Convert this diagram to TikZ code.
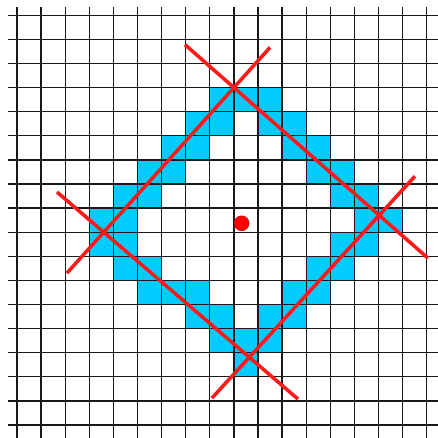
\documentclass[tikz,border=0pt]{standalone}
\usetikzlibrary{calc}
\definecolor{ccyan}{HTML}{00CCFF}
\definecolor{cred}{HTML}{FF1A1A}
\tikzset{
  gridline/.style={draw=black!90, line width=1.6pt},
  cell/.style={fill=ccyan},
  tangent/.style={draw=cred, line width=4.2pt},
  centre/.style={circle, fill=red, draw=red!75!black, line width=0.6pt, minimum size=0.62cm, inner sep=0pt},
}
\begin{document}
\begin{tikzpicture}
  \useasboundingbox (-0.705,-0.54) rectangle (17.47,17.635);
  % filled pixels, row by row from the top
  \foreach \r/\cs in {3/{8,9,10}, 4/{7,8,10,11}, 5/{6,7,11,12}, 6/{5,6,12,13},
                      7/{4,5,13,14}, 8/{3,4,14,15}, 9/{3,4,13,14}, 10/{4,5,12,13},
                      11/{5,6,7,11,12}, 12/{7,8,10,11}, 13/{8,9,10}, 14/{9}}
    \foreach \c in \cs
      \fill[cell] (\c,{16-\r}) rectangle ++(1,1);
  % grid
  \foreach \k in {0,...,17} {
    \draw[gridline] (-0.37,\k) -- (17.47,\k);
    \draw[gridline] (\k,-0.54) -- (\k,17.34);
  }
  % corners where the tangents meet
  \coordinate (top) at (9,14);
  \coordinate (left) at (3.6,8);
  \coordinate (right) at (15.03,8.7);
  \coordinate (bottom) at (9.64,2.81);
  \draw[tangent] ($(left)!-0.283!(top)$) -- ($(left)!1.278!(top)$);
  \draw[tangent] ($(top)!-0.337!(right)$) -- ($(top)!1.335!(right)$);
  \draw[tangent] ($(left)!-0.321!(bottom)$) -- ($(left)!1.334!(bottom)$);
  \draw[tangent] ($(bottom)!-0.288!(right)$) -- ($(bottom)!1.275!(right)$);
  \node[centre] (mid) at (9.32,8.37) {};
\end{tikzpicture}
\end{document}
